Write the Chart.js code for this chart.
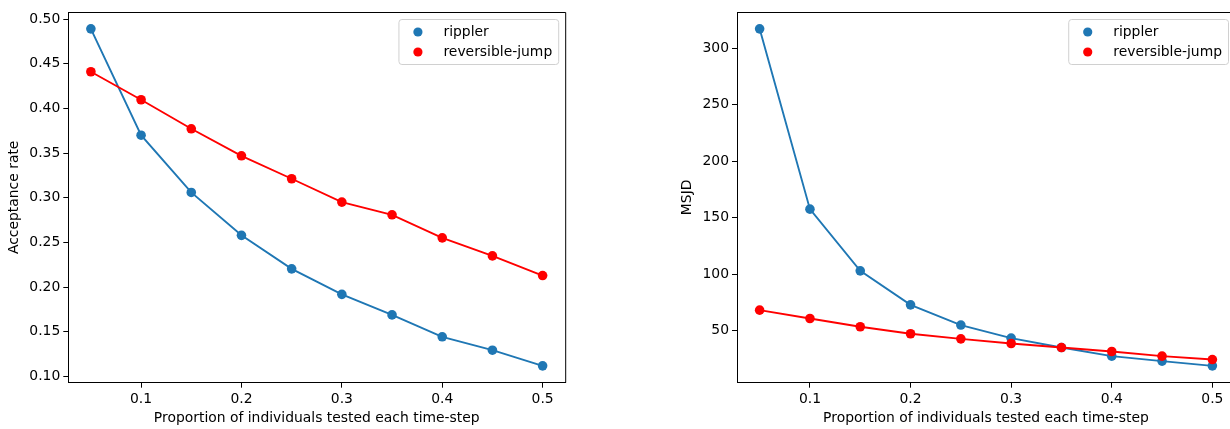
<!DOCTYPE html>
<html>
<head>
<meta charset="utf-8">
<script src="https://cdn.jsdelivr.net/npm/chart.js@4"></script>
<style>
  html, body { margin: 0; padding: 0; background: #fff; overflow: hidden; width: 1230px; height: 429px; }
  canvas { position: absolute; top: 0; }
</style>
</head>
<body>
<canvas id="chart-acc" width="570" height="429" style="left:0"></canvas>
<canvas id="chart-msjd" width="570" height="429" style="left:670px"></canvas>
<script>
// data
var proportions = [0.05, 0.1, 0.15, 0.2, 0.25, 0.3, 0.35, 0.4, 0.45, 0.5];
var ripplerAcceptance = [0.489, 0.370, 0.306, 0.258, 0.2205, 0.192, 0.169, 0.1445, 0.1295, 0.112];
var rjAcceptance = [0.441, 0.4097, 0.3772, 0.347, 0.3213, 0.2952, 0.281, 0.2552, 0.235, 0.213];
var ripplerMsjd = [317.1, 157.5, 102.9, 72.8, 54.9, 43.3, 35.0, 27.4, 23.0, 18.8];
var rjMsjd = [68.1, 60.7, 53.4, 47.2, 42.7, 38.6, 35.0, 31.5, 27.4, 24.4];

var xTicks = [0.1, 0.2, 0.3, 0.4, 0.5];
var accTicks = [0.10, 0.15, 0.20, 0.25, 0.30, 0.35, 0.40, 0.45, 0.50];
var msjdTicks = [50, 100, 150, 200, 250, 300];
var seriesNames = ["rippler", "reversible-jump"];

var BLUE = "#1f77b4";
var RED = "#ff0000";
var FONT = { family: "'DejaVu Sans', sans-serif", size: 13.9 };

function points(ys) {
    return proportions.map(function (x, i) { return { x: x, y: ys[i] }; });
}

function pad(lo, hi) {
    var m = (hi - lo) * 0.05;
    return [lo - m, hi + m];
}

// top/right spines + legend inside the plot
var framePlugin = {
    id: "frame",
    afterDraw: function (chart) {
        var ctx = chart.ctx, a = chart.chartArea;
        ctx.save();
        ctx.strokeStyle = "#000";
        ctx.lineWidth = 1;
        ctx.beginPath();
        ctx.moveTo(a.left, a.top + 0.5);
        ctx.lineTo(a.right + 0.5, a.top + 0.5);
        ctx.lineTo(a.right + 0.5, a.bottom);
        ctx.stroke();

        ctx.font = FONT.size + "px " + FONT.family;
        var tw = Math.max.apply(null, seriesNames.map(function (s) { return ctx.measureText(s).width; }));
        var w = 45 + tw + 6, h = 45;
        var bx = a.right - 7 - w, by = a.top + 7;
        ctx.beginPath();
        ctx.roundRect(bx + 0.5, by + 0.5, w, h, 3);
        ctx.fillStyle = "rgba(255,255,255,0.8)";
        ctx.fill();
        ctx.strokeStyle = "#d0d0d0";
        ctx.stroke();
        var cols = [BLUE, RED];
        seriesNames.forEach(function (s, i) {
            var cy = by + 13 + i * 20;
            ctx.beginPath();
            ctx.arc(bx + 19.5, cy, 4.6, 0, Math.PI * 2);
            ctx.fillStyle = cols[i];
            ctx.fill();
            ctx.fillStyle = "#000";
            ctx.textBaseline = "middle";
            ctx.textAlign = "left";
            ctx.fillText(s, bx + 45, cy);
        });
        ctx.restore();
    }
};

function makeChart(id, blueVals, redVals, yTicks, yTitle, yTitlePad, yWidth, yDigits, padRight) {
    var all = blueVals.concat(redVals);
    var yr = pad(Math.min.apply(null, all), Math.max.apply(null, all));
    var xr = pad(proportions[0], proportions[proportions.length - 1]);

    var ds = function (label, vals, color, order) {
        return {
            label: label,
            data: points(vals),
            borderColor: color,
            backgroundColor: color,
            pointBackgroundColor: color,
            pointBorderWidth: 0,
            pointRadius: 4.8,
            borderWidth: 1.9,
            tension: 0,
            order: order
        };
    };

    return new Chart(id, {
        type: "line",
        data: { datasets: [ds(seriesNames[0], blueVals, BLUE, 2), ds(seriesNames[1], redVals, RED, 1)] },
        plugins: [framePlugin],
        options: {
            responsive: false,
            animation: false,
            layout: { padding: { top: 12, right: padRight, left: 0, bottom: 0 } },
            plugins: { legend: { display: false }, tooltip: { enabled: false } },
            scales: {
                x: {
                    type: "linear",
                    min: xr[0],
                    max: xr[1],
                    afterBuildTicks: function (s) { s.ticks = xTicks.map(function (v) { return { value: v }; }); },
                    afterFit: function (s) { s.height = 46.3; },
                    grid: { drawOnChartArea: false, drawTicks: true, tickLength: 5, tickColor: "#000", tickWidth: 1 },
                    border: { display: true, color: "#000", width: 1 },
                    ticks: {
                        color: "#000", font: FONT, padding: 3, maxRotation: 0,
                        callback: function (v) { return v.toFixed(1); }
                    },
                    title: {
                        display: true, text: "Proportion of individuals tested each time-step",
                        color: "#000", font: FONT, padding: { top: 0, bottom: 2.7 }
                    }
                },
                y: {
                    type: "linear",
                    min: yr[0],
                    max: yr[1],
                    afterBuildTicks: function (s) { s.ticks = yTicks.map(function (v) { return { value: v }; }); },
                    afterFit: function (s) { s.width = yWidth; },
                    grid: { drawOnChartArea: false, drawTicks: true, tickLength: 5, tickColor: "#000", tickWidth: 1 },
                    border: { display: true, color: "#000", width: 1 },
                    ticks: {
                        color: "#000", font: FONT, padding: 3,
                        callback: function (v) { return v.toFixed(yDigits); }
                    },
                    title: {
                        display: true, text: yTitle, color: "#000", font: FONT,
                        padding: { top: yTitlePad, bottom: 0 }
                    }
                }
            }
        }
    });
}

makeChart("chart-acc", ripplerAcceptance, rjAcceptance, accTicks, "Acceptance rate", 6.2, 68.3, 2, 4);
makeChart("chart-msjd", ripplerMsjd, rjMsjd, msjdTicks, "MSJD", 8.7, 67, 0, 5);
</script>
</body>
</html>
